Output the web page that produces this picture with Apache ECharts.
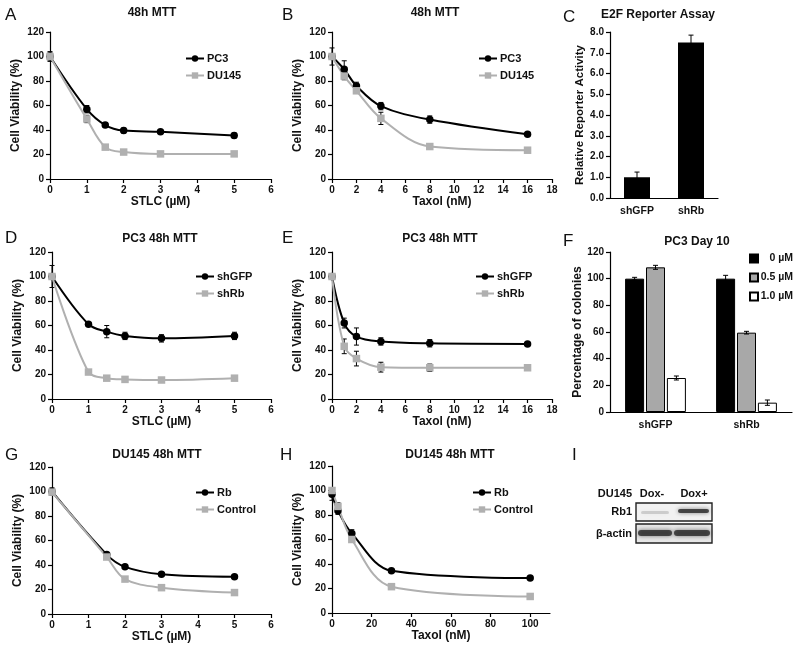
<!DOCTYPE html>
<html><head><meta charset="utf-8">
<script src="https://cdn.jsdelivr.net/npm/echarts@6/dist/echarts.min.js"></script>
<style>html,body{margin:0;padding:0;background:#fff}#c{width:800px;height:655px}</style>
</head><body><div id="c"></div>
<script>
// ---------- DATA ----------
const stlcA = [0, 1, 1.5, 2, 3, 5];
const aPC3 = [100, 57, 44, 39.5, 38.5, 35.5];
const aPC3Err = [3, 3, 2, 2, 1.5, 2];
const aDU145 = [100, 49, 26, 22, 20.5, 20.5];
const aDU145Err = [4, 3, 1, 1, 1, 1.5];

const taxolB = [0, 1, 2, 4, 8, 16];
const bPC3 = [100, 89.5, 76, 59.5, 48.5, 36.5];
const bPC3Err = [7, 7, 3, 3, 3, 1];
const bDU145 = [100, 84, 72, 49.5, 26.5, 23.5];
const bDU145Err = [2, 3, 2, 5, 2, 1];

const cCats = ['shGFP', 'shRb'];
const cVal = [1.0, 7.5];
const cErr = [0.25, 0.35];

const stlcD = [0, 1, 1.5, 2, 3, 5];
const dShGFP = [100, 61, 55, 51.5, 49.5, 51.5];
const dShGFPErr = [9, 1.5, 5, 3, 3, 3];
const dShRb = [100, 22, 17, 16, 15.5, 17];
const dShRbErr = [1, 2, 1, 1, 1, 1];

const taxolE = [0, 1, 2, 4, 8, 16];
const eShGFP = [100, 62, 51, 47, 45.5, 45];
const eShGFPErr = [1, 4, 7, 3, 3, 1];
const eShRb = [100, 43, 33, 26, 25.5, 25.5];
const eShRbErr = [1, 6, 6, 4, 3, 1];

const fCats = ['shGFP', 'shRb'];
const fNames = ['0 µM', '0.5 µM', '1.0 µM'];
const f0 = [100, 100];
const f0Err = [1, 2.5];
const f05 = [108.5, 59.5];
const f05Err = [1.5, 1];
const f10 = [25.5, 7];
const f10Err = [1.5, 2];

const stlcG = [0, 1.5, 2, 3, 5];
const gRb = [100, 48.5, 38.5, 32.5, 30.5];
const gRbErr = [3, 1, 1, 1.5, 1];
const gCtrl = [99.5, 46.5, 28.5, 21.5, 17.5];
const gCtrlErr = [2, 1, 1, 1, 1];

const taxolH = [0, 3, 10, 30, 100];
const hRb = [97, 83.5, 65, 34.5, 28.5];
const hRbErr = [5, 3, 3, 1, 1];
const hCtrl = [100, 87, 60, 21.5, 13.5];
const hCtrlErr = [2, 3, 2, 1, 1];

const hTicks = [0, 20, 40, 60, 80, 100];

// ---------- STYLE ----------
const FF = '"Liberation Sans", Arial, sans-serif';
const BLACK = '#000';
const GRAY = '#b0b0b0';

const grids = [
  {left: 50, top: 32, width: 221, height: 147},   // A
  {left: 332, top: 32, width: 220, height: 147},  // B
  {left: 610, top: 32, width: 108, height: 166},  // C
  {left: 52, top: 252, width: 219, height: 147},  // D
  {left: 332, top: 252, width: 220, height: 147}, // E
  {left: 610, top: 252, width: 182, height: 160}, // F
  {left: 52, top: 467, width: 219, height: 147},  // G
  {left: 332, top: 466, width: 218, height: 147}  // H
];

const lineStyleAxis = {show: true, lineStyle: {color: '#000', width: 1.2}};
const tickStyle = {show: true, length: 4, inside: false, lineStyle: {color: '#000', width: 1.2}};
const labelStyle = {color: '#111', fontFamily: FF, fontWeight: 'bold', fontSize: 10, margin: 6};
const nameStyle = {color: '#111', fontFamily: FF, fontWeight: 'bold', fontSize: 12};

function valX(gi, max, interval, name, extra) {
  return Object.assign({
    type: 'value', gridIndex: gi, min: 0, max: max, interval: interval,
    name: name, nameLocation: 'middle', nameGap: 17, nameTextStyle: nameStyle,
    axisLine: lineStyleAxis, axisTick: tickStyle, axisLabel: labelStyle,
    splitLine: {show: false}
  }, extra || {});
}
function catX(gi, cats) {
  return {
    type: 'category', gridIndex: gi, data: cats,
    axisLine: lineStyleAxis, axisTick: {show: false},
    axisLabel: Object.assign({}, labelStyle, {fontSize: 10.5, margin: 8}),
    splitLine: {show: false}
  };
}
function valY(gi, max, interval, name, gap, fmt, nameSize) {
  return {
    type: 'value', gridIndex: gi, min: 0, max: max, interval: interval,
    name: name, nameLocation: 'middle', nameGap: gap,
    nameTextStyle: Object.assign({}, nameStyle, nameSize ? {fontSize: nameSize} : {}),
    axisLine: lineStyleAxis, axisTick: tickStyle,
    axisLabel: Object.assign({}, labelStyle, fmt ? {formatter: fmt} : {}),
    splitLine: {show: false}
  };
}

const xAxes = [
  valX(0, 6, 1, 'STLC (µM)'),
  valX(1, 18, 2, 'Taxol (nM)'),
  catX(2, cCats),
  valX(3, 6, 1, 'STLC (µM)'),
  valX(4, 18, 2, 'Taxol (nM)'),
  catX(5, fCats),
  valX(6, 6, 1, 'STLC (µM)'),
  valX(7, 110, 20, 'Taxol (nM)', {
    axisLabel: Object.assign({}, labelStyle, {customValues: hTicks}),
    axisTick: Object.assign({}, tickStyle, {customValues: hTicks})
  })
];
const yAxes = [
  valY(0, 120, 20, 'Cell Viability (%)', 28),
  valY(1, 120, 20, 'Cell Viability (%)', 28),
  valY(2, 8, 1, 'Relative Reporter Activity', 21, v => v.toFixed(1), 11.5),
  valY(3, 120, 20, 'Cell Viability (%)', 28),
  valY(4, 120, 20, 'Cell Viability (%)', 28),
  valY(5, 120, 20, 'Percentage of colonies', 20),
  valY(6, 120, 20, 'Cell Viability (%)', 28),
  valY(7, 120, 20, 'Cell Viability (%)', 28)
];

const series = [];
function lineS(name, xs, ys, gi, color, symbol) {
  series.push({
    type: 'line', name: name, xAxisIndex: gi, yAxisIndex: gi,
    data: xs.map((x, i) => [x, ys[i]]), smooth: 0.35,
    symbol: symbol, symbolSize: 7.5,
    lineStyle: {color: color, width: 2}, itemStyle: {color: color},
    z: 3, silent: true
  });
}
function errS(xs, ys, errs, gi, offset, z) {
  offset = offset || 0;
  series.push({
    type: 'custom', xAxisIndex: gi, yAxisIndex: gi, silent: true, z: z || 1,
    data: xs.map((x, i) => [x, ys[i], errs[i]]),
    encode: {x: 0, y: 1},
    renderItem: function (params, api) {
      const x = api.value(0), y = api.value(1), e = api.value(2);
      const t = api.coord([x, y + e]);
      const b = api.coord([x, y - e]);
      const cx = t[0] + offset, hw = 2.5;
      const st = {stroke: '#000', lineWidth: 1};
      return {type: 'group', children: [
        {type: 'line', shape: {x1: cx, y1: t[1], x2: cx, y2: b[1]}, style: st},
        {type: 'line', shape: {x1: cx - hw, y1: t[1], x2: cx + hw, y2: t[1]}, style: st},
        {type: 'line', shape: {x1: cx - hw, y1: b[1], x2: cx + hw, y2: b[1]}, style: st}
      ]};
    }
  });
}

// A
lineS('PC3', stlcA, aPC3, 0, BLACK, 'circle');
lineS('DU145', stlcA, aDU145, 0, GRAY, 'rect');
errS(stlcA, aPC3, aPC3Err, 0); errS(stlcA, aDU145, aDU145Err, 0);
// B
lineS('PC3', taxolB, bPC3, 1, BLACK, 'circle');
lineS('DU145', taxolB, bDU145, 1, GRAY, 'rect');
errS(taxolB, bPC3, bPC3Err, 1); errS(taxolB, bDU145, bDU145Err, 1);
// C
series.push({type: 'bar', name: 'E2F', xAxisIndex: 2, yAxisIndex: 2, data: cVal,
  barWidth: 26, itemStyle: {color: '#000'}, silent: true});
errS([0, 1], cVal, cErr, 2, 0, 1);
// D
lineS('shGFP', stlcD, dShGFP, 3, BLACK, 'circle');
lineS('shRb', stlcD, dShRb, 3, GRAY, 'rect');
errS(stlcD, dShGFP, dShGFPErr, 3); errS(stlcD, dShRb, dShRbErr, 3);
// E
lineS('shGFP', taxolE, eShGFP, 4, BLACK, 'circle');
lineS('shRb', taxolE, eShRb, 4, GRAY, 'rect');
errS(taxolE, eShGFP, eShGFPErr, 4); errS(taxolE, eShRb, eShRbErr, 4);
// F
const fVals = [f0, f05, f10], fErrs = [f0Err, f05Err, f10Err];
const fFill = ['#000', '#a8a8a8', '#fff'];
const FBW = 19, FGAP = 1.9;
fVals.forEach((v, k) => {
  series.push({type: 'bar', name: fNames[k], xAxisIndex: 5, yAxisIndex: 5, data: v,
    barWidth: FBW, barGap: '10%', silent: true,
    itemStyle: {color: fFill[k], borderColor: '#000', borderWidth: 1}});
});
fVals.forEach((v, k) => errS([0, 1], v, fErrs[k], 5, (k - 1) * (FBW + FGAP), 5));
// G
lineS('Rb', stlcG, gRb, 6, BLACK, 'circle');
lineS('Control', stlcG, gCtrl, 6, GRAY, 'rect');
errS(stlcG, gRb, gRbErr, 6); errS(stlcG, gCtrl, gCtrlErr, 6);
// H
lineS('Rb', taxolH, hRb, 7, BLACK, 'circle');
lineS('Control', taxolH, hCtrl, 7, GRAY, 'rect');
errS(taxolH, hRb, hRbErr, 7); errS(taxolH, hCtrl, hCtrlErr, 7);

function lg(names, left, top) {
  return {data: names, left: left, top: top, orient: 'vertical', padding: 0,
    itemWidth: 18, itemHeight: 8, itemGap: 6, selectedMode: false,
    textStyle: {fontFamily: FF, fontWeight: 'bold', fontSize: 11, color: '#111', padding: [0, 0, 0, -2]}};
}
const legends = [
  lg(['PC3', 'DU145'], 185, 53),
  lg(['PC3', 'DU145'], 478, 53),
  lg(['shGFP', 'shRb'], 195, 271),
  lg(['shGFP', 'shRb'], 475, 271),
  lg(['Rb', 'Control'], 195, 487),
  lg(['Rb', 'Control'], 472, 487),
  {data: fNames.map(n => ({name: n, icon: 'rect'})), left: 749, top: 253, orient: 'vertical', padding: 0,
    itemWidth: 8, itemHeight: 8, itemGap: 8, selectedMode: false,
    formatter: '{a|{name}}',
    textStyle: {fontFamily: FF, fontWeight: 'bold', fontSize: 10.5, color: '#111',
      rich: {a: {width: 30, align: 'right', fontFamily: FF, fontWeight: 'bold', fontSize: 10.5, color: '#111'}}}}
];

// ---------- TEXT / BLOT ----------
const titles = [
  ['48h MTT', 152, 13], ['48h MTT', 435, 13], ['E2F Reporter Assay', 658, 15],
  ['PC3 48h MTT', 160, 239], ['PC3 48h MTT', 440, 239], ['PC3 Day 10', 697, 242],
  ['DU145 48h MTT', 157, 455], ['DU145 48h MTT', 450, 455]
];
const letters = [
  ['A', 5, 15], ['B', 282, 15], ['C', 563, 17], ['D', 5, 238], ['E', 282, 238],
  ['F', 563, 241], ['G', 5, 455], ['H', 280, 455], ['I', 572, 455]
];
const graphics = [];
titles.forEach(t => graphics.push({type: 'text', x: t[1], y: t[2], silent: true,
  style: {text: t[0], fill: '#111', font: 'bold 12px ' + FF, textAlign: 'center', textVerticalAlign: 'middle'}}));
letters.forEach(t => graphics.push({type: 'text', x: t[1], y: t[2], silent: true,
  style: {text: t[0], fill: '#111', font: '17px ' + FF, textAlign: 'left', textVerticalAlign: 'middle'}}));

// Western blot panel I
const blotTexts = [
  ['DU145', 632, 494, 'right'], ['Dox-', 652, 494, 'center'], ['Dox+', 694, 494, 'center'],
  ['Rb1', 632, 512, 'right'], ['β-actin', 632, 534, 'right']
];
blotTexts.forEach(t => graphics.push({type: 'text', x: t[1], y: t[2], silent: true,
  style: {text: t[0], fill: '#111', font: 'bold 11px ' + FF, textAlign: t[3], textVerticalAlign: 'middle'}}));
graphics.push(
  {type: 'rect', shape: {x: 636, y: 503, width: 76, height: 18}, silent: true,
    style: {fill: '#f2f2f2', stroke: '#222', lineWidth: 1.4}},
  {type: 'rect', shape: {x: 641, y: 511, width: 28, height: 3, r: 1.5}, silent: true,
    style: {fill: 'rgba(0,0,0,0.14)', shadowBlur: 4, shadowColor: 'rgba(0,0,0,0.25)'}},
  {type: 'rect', shape: {x: 678, y: 509, width: 31, height: 4, r: 2}, silent: true,
    style: {fill: 'rgba(30,30,30,0.75)', shadowBlur: 4, shadowColor: 'rgba(0,0,0,0.6)'}},
  {type: 'rect', shape: {x: 636, y: 524, width: 76, height: 19}, silent: true,
    style: {fill: '#e6e6e6', stroke: '#222', lineWidth: 1.4}},
  {type: 'rect', shape: {x: 638, y: 530, width: 34, height: 6, r: 3}, silent: true,
    style: {fill: 'rgba(40,40,40,0.8)', shadowBlur: 4, shadowColor: 'rgba(0,0,0,0.6)'}},
  {type: 'rect', shape: {x: 674, y: 530, width: 36, height: 6, r: 3}, silent: true,
    style: {fill: 'rgba(40,40,40,0.8)', shadowBlur: 4, shadowColor: 'rgba(0,0,0,0.6)'}}
);

const chart = echarts.init(document.getElementById('c'), null, {renderer: 'canvas'});
chart.setOption({
  backgroundColor: '#fff',
  animation: false,
  grid: grids,
  xAxis: xAxes,
  yAxis: yAxes,
  legend: legends,
  series: series,
  graphic: graphics
});
</script></body></html>
